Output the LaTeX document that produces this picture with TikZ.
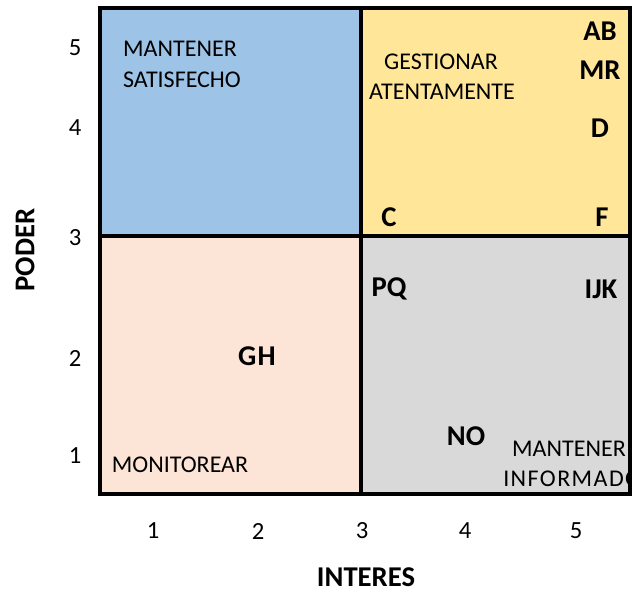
\documentclass[tikz,border=0pt]{standalone}
\usepackage{fontspec}
\setmainfont{Carlito}
\definecolor{qblue}{HTML}{9DC3E6}
\definecolor{qyellow}{HTML}{FFE699}
\definecolor{qpink}{HTML}{FCE4D6}
\definecolor{qgray}{HTML}{D9D9D9}
\begin{document}
\begin{tikzpicture}[x=0.75pt,y=-0.75pt,
  lbl/.style={font=\fontsize{18}{21}\selectfont, inner sep=0pt},
  key/.style={font=\fontsize{21.5}{25}\selectfont\bfseries, inner sep=0pt},
  tick/.style={font=\fontsize{18.5}{22}\selectfont, inner sep=0pt},
  frame/.style={line width=3pt}]
\useasboundingbox (0,0) rectangle (632,592);

% quadrant fills
\fill[qblue]   (100,8)   rectangle (361,236);
\fill[qyellow] (361,8)   rectangle (630,236);
\fill[qpink]   (100,236) rectangle (361,494);
\fill[qgray]   (361,236) rectangle (630,494);

% quadrant titles
\node[lbl] (ms1) at (180,49) {MANTENER};
\node[lbl] (ms2) at (182,80) {SATISFECHO};
\node[lbl] (ga1) at (441,62) {GESTIONAR};
\node[lbl] (ga2) at (442,92) {ATENTAMENTE};
\node[lbl] (mon) at (180,465) {MONITOREAR};
\node[lbl] (mi1) at (569,449) {MANTENER};
\begin{scope}
  \clip (100,8) rectangle (630,494);
  \node[lbl, anchor=west] (mi2) at (503,479) {\addfontfeatures{LetterSpace=6}INFORMADO};
\end{scope}

% stakeholder keys
\node[key] (ab)  at (600,31)  {AB};
\node[key] (mr)  at (600,70)  {MR};
\node[key] (d)   at (600,128) {D};
\node[key] (f)   at (602,217) {F};
\node[key] (c)   at (389,217) {C};
\node[key] (pq)  at (389,289) {PQ};
\node[key] (ijk) at (601,289) {IJK};
\node[key] (gh)  at (257,356) {G\kern1pt H};
\node[key] (no)  at (466,436) {NO};

% frame and dividers
\draw[frame] (100,8) rectangle (630,494);
\draw[frame] (361,8) -- (361,494);
\draw[frame] (100,236) -- (630,236);

% axis ticks
\node[tick] (y5) at (75,48)  {5};
\node[tick] (y4) at (75,128) {4};
\node[tick] (y3) at (75,238) {3};
\node[tick] (y2) at (75,358) {2};
\node[tick] (y1) at (75,456) {1};
\node[tick] (x1) at (153,531) {1};
\node[tick] (x2) at (258,531) {2};
\node[tick] (x3) at (362,531) {3};
\node[tick] (x4) at (465,531) {4};
\node[tick] (x5) at (576,531) {5};

% axis titles
\node[key] (xt) at (366,577) {INTERES};
\node[key, rotate=90] (yt) at (25,250) {PODER};
\end{tikzpicture}
\end{document}
